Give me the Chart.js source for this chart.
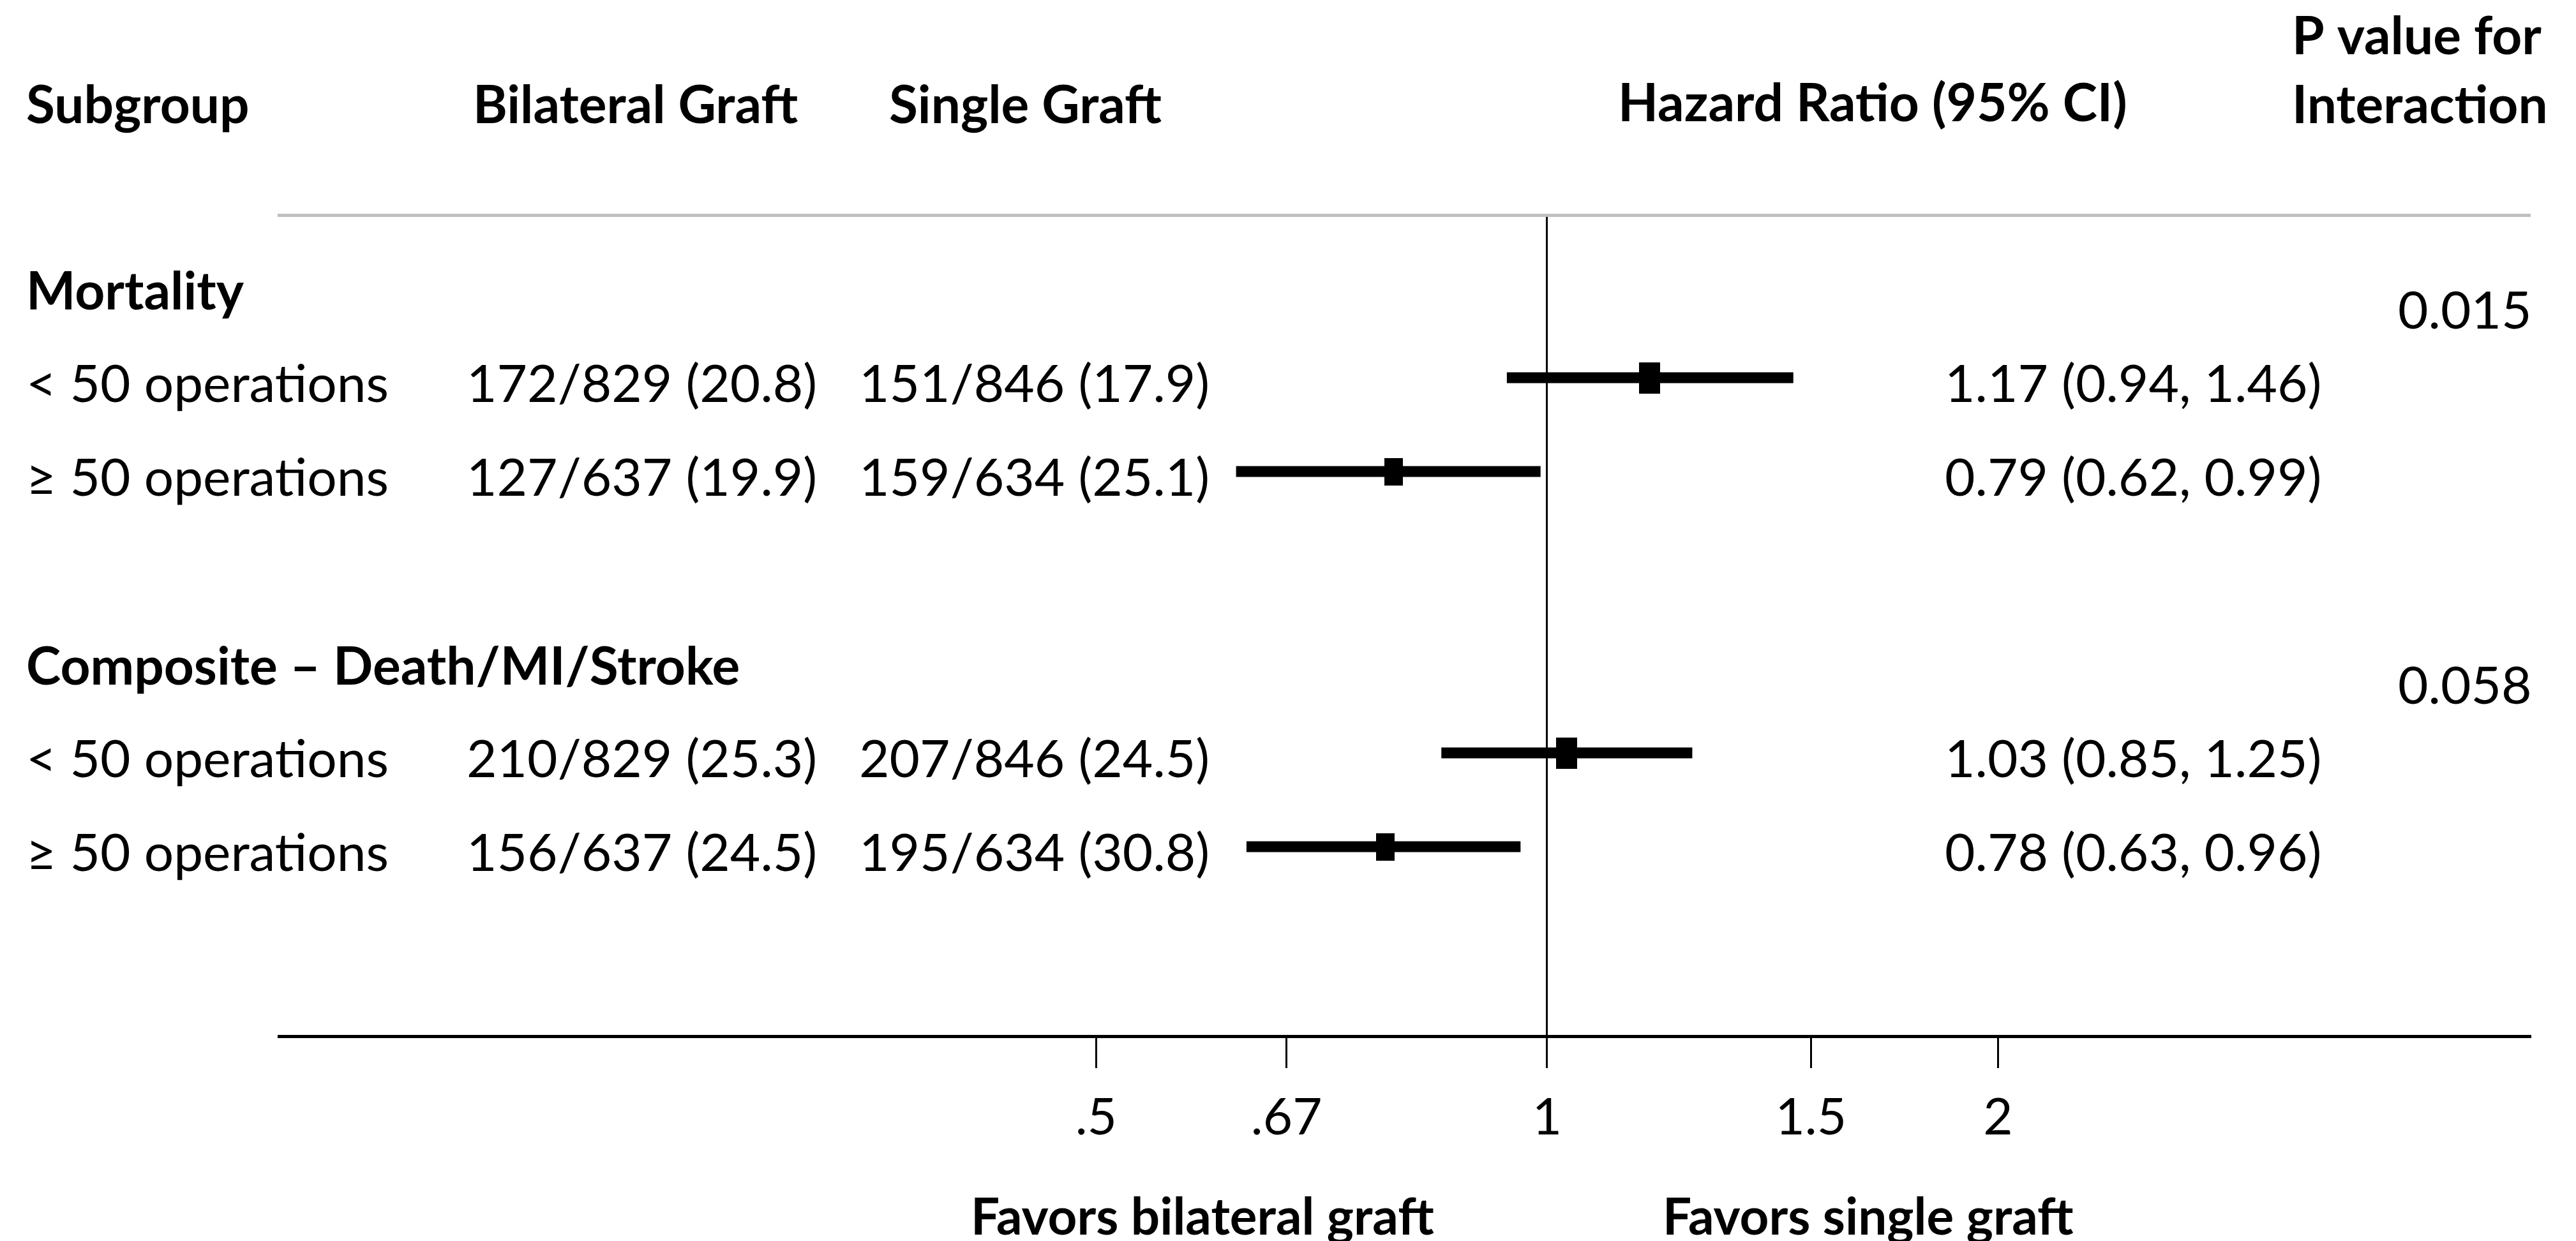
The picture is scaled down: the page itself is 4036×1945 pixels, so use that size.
<!DOCTYPE html>
<html>
<head>
<meta charset="utf-8">
<title>Subgroup forest plot</title>
<script src="https://cdn.jsdelivr.net/npm/chart.js@4"></script>
<style>
  html, body { margin: 0; padding: 0; background: #fff; }
  #wrap { width: 4036px; height: 1945px; position: relative; }
</style>
</head>
<body>
<div id="wrap"><canvas id="forest"></canvas></div>
<script>
// ---- data ----
const outcomes = ["Mortality", "Composite \u2013 Death/MI/Stroke"];
const pInteraction = ["0.015", "0.058"];
const subgroups = ["< 50 operations", "\u2265 50 operations", "< 50 operations", "\u2265 50 operations"];
const bilateralEvents = [172, 127, 210, 156];
const bilateralTotal = [829, 637, 829, 637];
const bilateralPct = ["20.8", "19.9", "25.3", "24.5"];
const singleEvents = [151, 159, 207, 195];
const singleTotal = [846, 634, 846, 634];
const singlePct = ["17.9", "25.1", "24.5", "30.8"];
const hazardRatio = [1.17, 0.79, 1.03, 0.78];
const ciLow = [0.94, 0.62, 0.85, 0.63];
const ciHigh = [1.46, 0.99, 1.25, 0.96];
const tickValues = [0.5, 0.67, 1, 1.5, 2];
const tickLabels = [".5", ".67", "1", "1.5", "2"];

// ---- layout ----
const outcomeSlot = [0, 4];
const rowSlot = [1, 2, 5, 6];
const FONT = "Lato";
const SIZE = 82;
const col = { subgroup: 41, bilateral: 731, single: 1346, hr: 3047, p: 3757 };
const head = { bilateral: 741, single: 1393, hr: 2535, p: 3591 };

// box area proportional to the number of patients in the subgroup
const maxN = Math.max(...bilateralTotal.map((n, i) => n + singleTotal[i]));
const boxes = bilateralTotal.map((n, i) => {
  const k = Math.sqrt((n + singleTotal[i]) / maxN);
  const c = document.createElement("canvas");
  c.width = Math.round(33 * k);
  c.height = Math.round(49 * k);
  const g = c.getContext("2d");
  g.fillStyle = "#000";
  g.fillRect(0, 0, c.width, c.height);
  return c;
});

function drawText(ctx, str, x, capMid, size, bold) {
  ctx.font = `${bold ? "bold " : ""}${size}px ${FONT}`;
  ctx.textBaseline = "alphabetic";
  ctx.textAlign = "left";
  ctx.fillStyle = "#000";
  ctx.fillText(str, x, capMid + size * 0.36);
}

const tableText = {
  id: "tableText",
  afterDraw(chart) {
    const { ctx, scales } = chart;
    const y = scales.y;
    ctx.save();
    // column headers
    drawText(ctx, "Subgroup", col.subgroup, 163, SIZE, true);
    drawText(ctx, "Bilateral Graft", head.bilateral, 163, SIZE, true);
    drawText(ctx, "Single Graft", head.single, 163, SIZE, true);
    drawText(ctx, "Hazard Ratio (95% CI)", head.hr, 160, SIZE, true);
    drawText(ctx, "P value for", head.p, 55, SIZE, true);
    drawText(ctx, "Interaction", head.p, 163, SIZE, true);

    outcomes.forEach((name, i) => {
      const py = y.getPixelForValue(outcomeSlot[i]);
      drawText(ctx, name, col.subgroup, py + 10, SIZE, true);
      drawText(ctx, pInteraction[i], col.p, py + 40, SIZE, false);
    });

    subgroups.forEach((name, i) => {
      const py = y.getPixelForValue(rowSlot[i]) + 8;
      drawText(ctx, name, col.subgroup, py, SIZE, false);
      drawText(ctx, `${bilateralEvents[i]}/${bilateralTotal[i]} (${bilateralPct[i]})`, col.bilateral, py, SIZE, false);
      drawText(ctx, `${singleEvents[i]}/${singleTotal[i]} (${singlePct[i]})`, col.single, py, SIZE, false);
      drawText(ctx, `${hazardRatio[i].toFixed(2)} (${ciLow[i].toFixed(2)}, ${ciHigh[i].toFixed(2)})`, col.hr, py, SIZE, false);
    });

    drawText(ctx, "Favors bilateral graft", 1521, 1906, 80, true);
    drawText(ctx, "Favors single graft", 2605, 1906, 80, true);
    ctx.restore();
  }
};

const ciDatasets = ciLow.map((lo, i) => ({
  data: [{ x: lo, y: rowSlot[i] }, { x: ciHigh[i], y: rowSlot[i] }],
  showLine: true,
  borderColor: "#000",
  borderWidth: 17,
  borderCapStyle: "butt",
  pointRadius: 0,
  fill: false
}));

const hrDataset = {
  data: hazardRatio.map((v, i) => ({ x: v, y: rowSlot[i] })),
  pointStyle: (c) => boxes[c.dataIndex],
  backgroundColor: "#000",
  borderColor: "#000",
  showLine: false
};

const xMin = 0.1424;
const xMax = 4.53;

new Chart(document.getElementById("forest"), {
  type: "scatter",
  data: { datasets: [...ciDatasets, hrDataset] },
  options: {
    responsive: true,
    maintainAspectRatio: false,
    animation: false,
    events: [],
    layout: { padding: { left: 437, right: 72, top: 337, bottom: 0 } },
    plugins: { legend: { display: false }, tooltip: { enabled: false } },
    scales: {
      x: {
        type: "logarithmic",
        position: "bottom",
        min: xMin,
        max: xMax,
        afterBuildTicks: (axis) => { axis.ticks = tickValues.map((v) => ({ value: v })); },
        afterFit: (axis) => { axis.height = 321; },
        ticks: {
          callback: (v, i) => tickLabels[i],
          color: "#000",
          padding: 30,
          maxRotation: 0,
          autoSkip: false,
          font: { family: FONT, size: 80 }
        },
        grid: {
          drawOnChartArea: true,
          color: (c) => (c.tick && c.tick.value === 1 ? "#000" : "rgba(0,0,0,0)"),
          lineWidth: 3,
          tickColor: "#000",
          tickWidth: 3,
          tickLength: 50
        },
        border: { display: true, color: "#000", width: 5 }
      },
      xTop: {
        type: "logarithmic",
        position: "top",
        axis: "x",
        min: xMin,
        max: xMax,
        afterFit: (axis) => { axis.height = 0; },
        ticks: { display: false },
        grid: { display: false },
        border: { display: true, color: "#bfbfbf", width: 5 }
      },
      y: {
        type: "linear",
        reverse: true,
        min: -0.735,
        max: 8.02,
        display: false
      }
    }
  },
  plugins: [tableText]
});
</script>
</body>
</html>
